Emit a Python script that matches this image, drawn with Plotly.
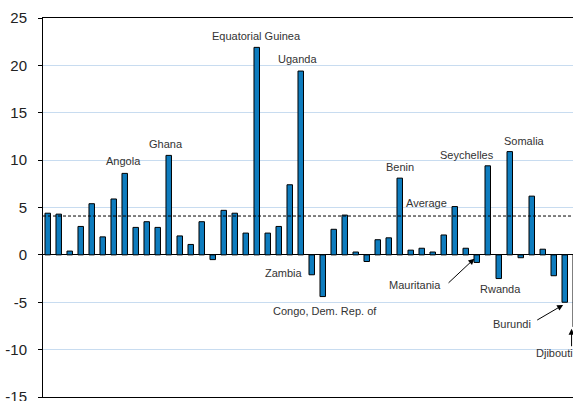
import plotly.graph_objects as go

# values, left to right (last bar, Djibouti, is cut off at the right edge)
values = [4.4, 4.3, 0.4, 3.0, 5.4, 1.9, 5.9, 8.6, 2.9, 3.5, 2.9, 10.5,
          2.0, 1.1, 3.5, -0.5, 4.7, 4.4, 2.3, 21.9, 2.3, 3.0, 7.4, 19.4,
          -2.1, -4.4, 2.7, 4.2, 0.3, -0.7, 1.6, 1.8, 8.1, 0.5, 0.7, 0.3,
          2.1, 5.1, 0.7, -0.8, 9.4, -2.5, 10.9, -0.3, 6.2, 0.6, -2.2, -5.0,
          -7.6]
positions = list(range(len(values)))
average = 4.1

y_ticks = [-15, -10, -5, 0, 5, 10, 15, 20, 25]
y_ticktext = ['-15', '-10', '-5', '0', '5', '10', '15', '20', '25']

# label text, x position (bar index units), y position (data units)
labels = ['Angola', 'Ghana', 'Equatorial Guinea', 'Uganda', 'Zambia',
          'Congo, Dem. Rep. of', 'Benin', 'Average', 'Seychelles', 'Somalia',
          'Rwanda', 'Mauritania', 'Burundi', 'Djibouti']
label_x = [6.85, 10.75, 18.94, 22.73, 21.45, 25.2, 32.03, 34.39, 38.09, 43.3,
           41.12, 33.39, 42.18, 46.05]
label_y = [9.92, 11.7, 23.1, 20.7, -1.9, -5.91, 9.29, 5.49, 10.55, 12.03,
           -3.59, -3.17, -7.28, -10.34]

# arrows: (head x, head y, tail x, tail y)
arrows = [(38.78, -0.4, 36.3, -3.1),
          (46.85, -5.28, 44.36, -6.97),
          (47.62, -7.8, 47.62, -9.8)]

font_family = 'Liberation Sans, Arial, sans-serif'

fig = go.Figure()

fig.add_trace(
    go.Bar(
        x=positions,
        y=values,
        width=0.5,
        marker_color='#0E7CBE',
        marker_line_color='black',
        marker_line_width=1,
        showlegend=False,
    )
)

# average line
fig.add_shape(
    type='line', xref='paper', yref='y',
    x0=0, x1=1, y0=average, y1=average,
    line=dict(color='black', width=1, dash='3px,2px'),
)

for text, x, y in zip(labels, label_x, label_y):
    fig.add_annotation(
        x=x, y=y, text=text, showarrow=False,
        font=dict(size=11, color='#333333', family=font_family),
    )

for hx, hy, tx, ty in arrows:
    fig.add_annotation(
        x=hx, y=hy, ax=tx, ay=ty, axref='x', ayref='y',
        text='', showarrow=True,
        arrowhead=2, arrowsize=1.2, arrowwidth=1, arrowcolor='black',
    )

fig.update_xaxes(
    range=[-0.43, 47.75],
    showticklabels=False,
    ticks='',
    showgrid=False,
    zeroline=False,
    automargin=False,
    showline=True, linecolor='black', linewidth=1, mirror=True,
)

fig.update_yaxes(
    range=[-15, 25],
    tickvals=y_ticks, ticktext=y_ticktext,
    ticks='outside', ticklen=4, tickcolor='black',
    tickfont=dict(size=15, color='#222222', family=font_family),
    ticklabelstandoff=8,
    ticklabeloverflow='allow',
    automargin=False,
    showgrid=True, gridcolor='#C8DCF0', gridwidth=1,
    zeroline=True, zerolinecolor='black', zerolinewidth=1,
    showline=True, linecolor='black', linewidth=1,
)

fig.update_layout(
    width=573, height=401,
    paper_bgcolor='white',
    plot_bgcolor='white',
    margin=dict(l=43, r=0, t=18, b=4),
    font_family=font_family,
    bargap=0.5,
)

# drop the default page margin so the figure sits at the window corner
fig.write_html('out.html', config={'displayModeBar': False},
               post_script="document.body.style.margin='0';")
